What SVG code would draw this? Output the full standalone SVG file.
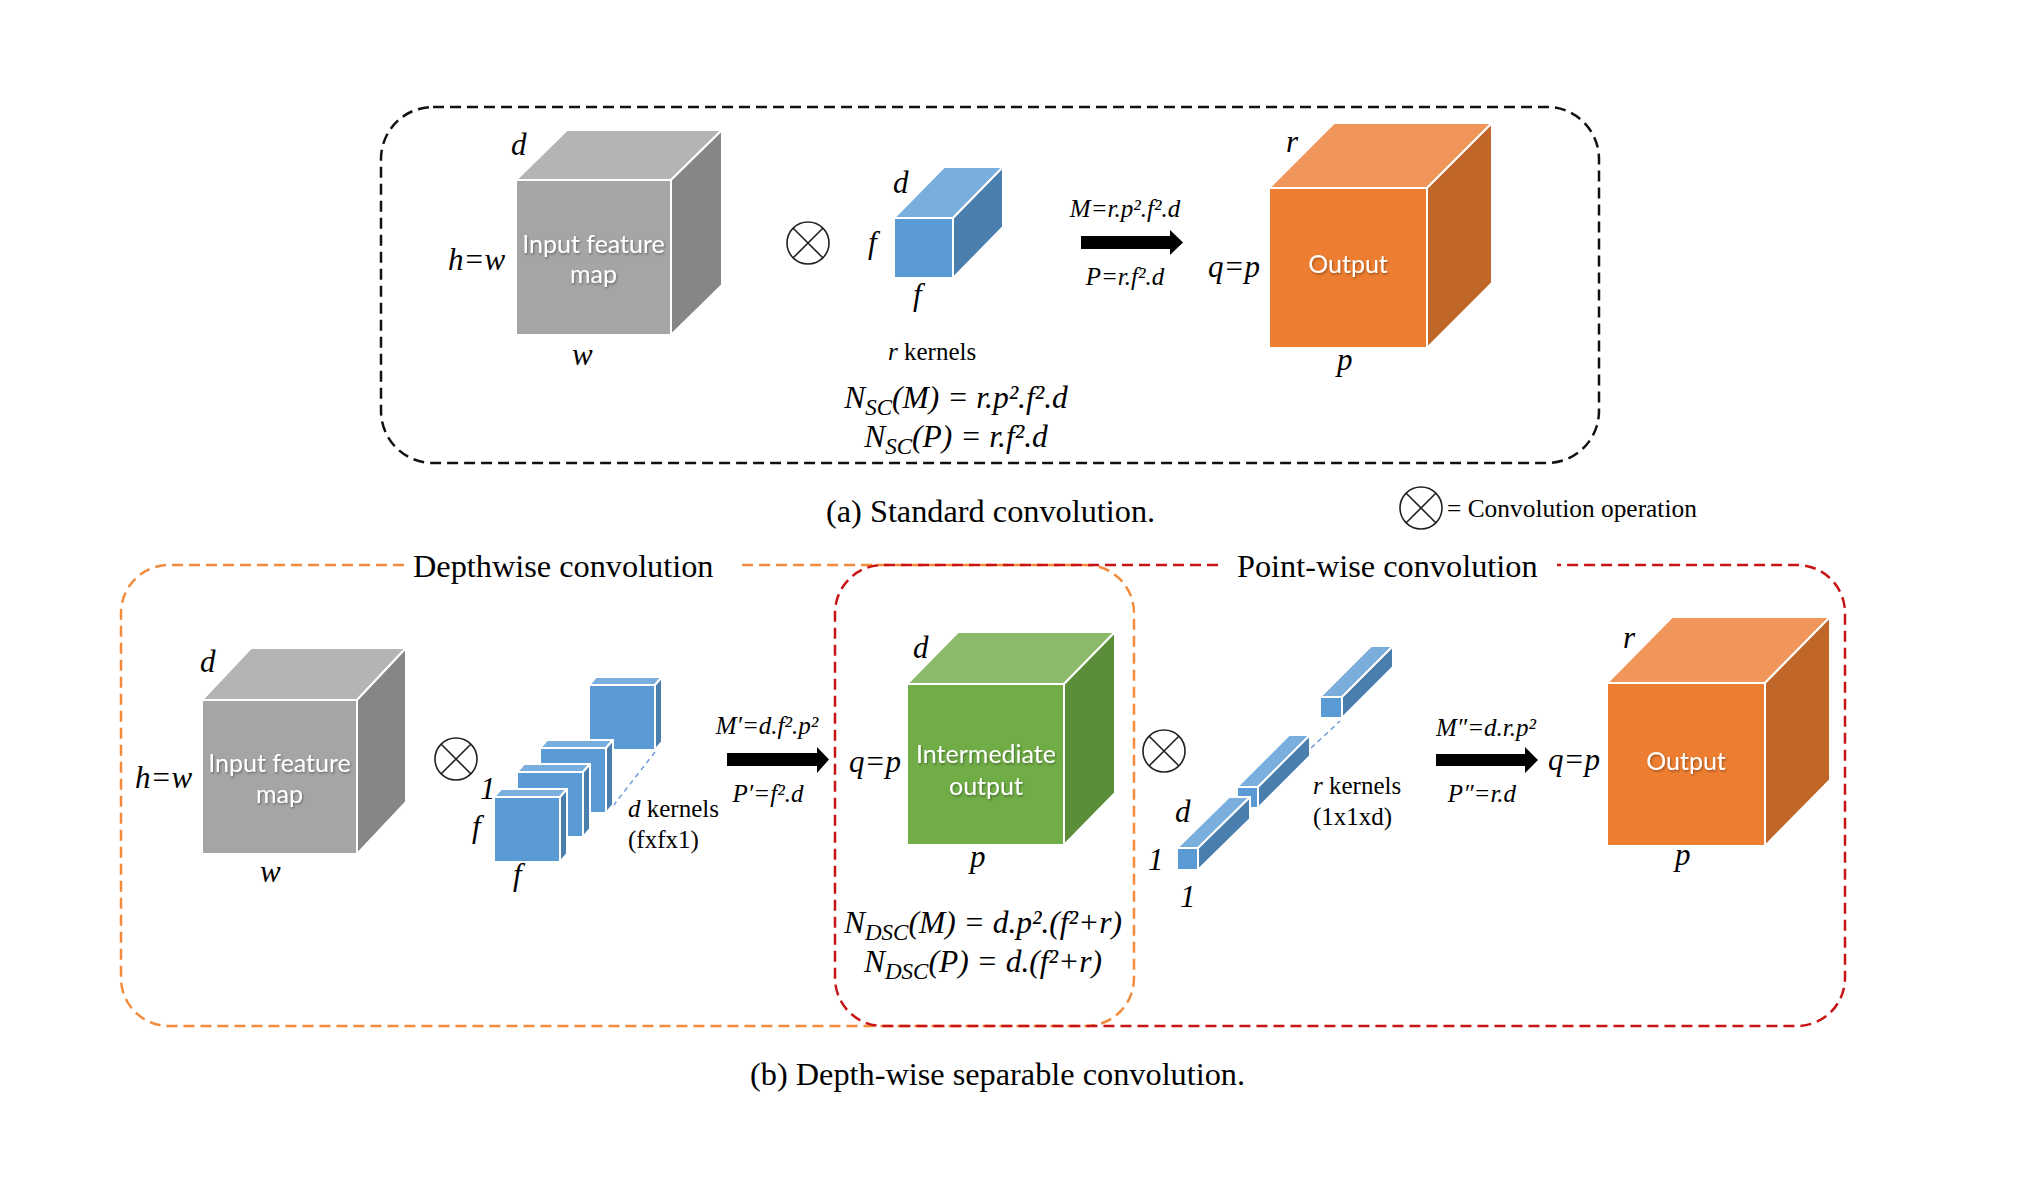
<svg xmlns="http://www.w3.org/2000/svg" width="2028" height="1202" viewBox="0 0 2028 1202">
<style>
.m{font-family:"Liberation Serif","Times New Roman",serif;font-style:italic;fill:#000}
.lb{font-size:31px}
.fs{font-size:25px}
.fm{font-size:31.5px}
.rm{font-family:"Liberation Serif","Times New Roman",serif;fill:#000}
.cap{font-size:32.3px}
.ct{font-family:Lato,"Open Sans",sans-serif;font-size:25px;fill:#fff;text-anchor:middle;filter:url(#sh)}
.edge{stroke:#fff;stroke-width:2;stroke-linejoin:round}
.ox{fill:none;stroke:#222;stroke-width:1.6}
.blk{fill:none;stroke:#111;stroke-width:2.5;stroke-dasharray:11 6}
.org{fill:none;stroke:#F28C3C;stroke-width:2.5;stroke-dasharray:11 6}
.red{fill:none;stroke:#C81414;stroke-width:2.5;stroke-dasharray:11 6}
.bd{fill:none;stroke:#6F9FDA;stroke-width:1.5;stroke-dasharray:5 4}
.arr{fill:#000}
</style>
<defs>
<filter id="sh" x="-10%" y="-30%" width="120%" height="160%">
<feDropShadow dx="1" dy="1.5" stdDeviation="1" flood-color="#000" flood-opacity="0.35"/>
</filter>
<g id="otimes"><circle cx="0" cy="0" r="21" class="ox"/><path d="M-14.8 -14.8L14.8 14.8M14.8 -14.8L-14.8 14.8" class="ox"/></g>
</defs>
<rect width="2028" height="1202" fill="#fff"/>

<g id="frame-standard">
<rect x="381" y="107" width="1218" height="356" rx="52" ry="52" class="blk"/>
</g>

<g id="frame-depthwise">
<path d="M404 565H169A48 48 0 0 0 121 613V978A48 48 0 0 0 169 1026H1086A48 48 0 0 0 1134 978V613A48 48 0 0 0 1086 565H741" class="org"/>
<text x="413" y="577" class="rm cap">Depthwise convolution</text>
</g>

<g id="frame-pointwise">
<path d="M1218 565H883A48 48 0 0 0 835 613V978A48 48 0 0 0 883 1026H1797A48 48 0 0 0 1845 978V613A48 48 0 0 0 1797 565H1557" class="red"/>
<text x="1237" y="577" class="rm cap">Point-wise convolution</text>
</g>

<!-- (a) standard convolution -->
<g id="input-a">
<polygon points="516,180 567,130 722,130 671,180" fill="#B4B4B4" class="edge"/>
<polygon points="671,180 722,130 722,285 671,335" fill="#868686" class="edge"/>
<rect x="516" y="180" width="155" height="155" fill="#A5A5A5" class="edge"/>
<text x="593.5" y="253" class="ct">Input feature</text>
<text x="593.5" y="283" class="ct">map</text>
<text x="511" y="155" class="m lb">d</text>
<text x="448" y="270" class="m lb">h=w</text>
<text x="572" y="365" class="m lb">w</text>
</g>

<g id="conv-a"><use href="#otimes" x="808" y="243"/></g>

<g id="kernel-a">
<polygon points="894,218 944,167 1003,167 953,218" fill="#7AAEDD" class="edge"/>
<polygon points="953,218 1003,167 1003,227 953,278" fill="#4A7EAD" class="edge"/>
<rect x="894" y="218" width="59" height="60" fill="#5B9BD5" class="edge"/>
<text x="893" y="193" class="m lb">d</text>
<text x="868" y="253" class="m lb">f</text>
<text x="913" y="305" class="m lb">f</text>
<text x="888" y="360" class="rm" font-size="25"><tspan font-style="italic">r</tspan> kernels</text>
</g>

<g id="formula-a">
<text x="956" y="408" text-anchor="middle" class="m fm">N<tspan font-size="23" dy="7">SC</tspan><tspan dy="-7">(M) = r.p².f².d</tspan></text>
<text x="956" y="447" text-anchor="middle" class="m fm">N<tspan font-size="23" dy="7">SC</tspan><tspan dy="-7">(P) = r.f².d</tspan></text>
</g>

<g id="output-a">
<polygon points="1269,188 1334,123 1492,123 1427,188" fill="#F0965A" class="edge"/>
<polygon points="1427,188 1492,123 1492,283 1427,348" fill="#C06628" class="edge"/>
<rect x="1269" y="188" width="158" height="160" fill="#ED7D31" class="edge"/>
<text x="1348" y="273" class="ct">Output</text>
<text x="1286" y="152" class="m lb">r</text>
<text x="1208" y="277" class="m lb">q=p</text>
<text x="1337" y="370" class="m lb">p</text>
</g>

<g id="caption-a">
<text x="826" y="522" class="rm cap">(a) Standard convolution.</text>
</g>

<g id="legend">
<use href="#otimes" x="1421" y="508"/>
<text x="1447" y="517" class="rm" font-size="25.4">= Convolution operation</text>
</g>

<!-- (b) depthwise separable -->
<g id="input-b">
<polygon points="202,700 251,648 406,648 357,700" fill="#B4B4B4" class="edge"/>
<polygon points="357,700 406,648 406,802 357,854" fill="#868686" class="edge"/>
<rect x="202" y="700" width="155" height="154" fill="#A5A5A5" class="edge"/>
<text x="279.5" y="772" class="ct">Input feature</text>
<text x="279.5" y="803" class="ct">map</text>
<text x="200" y="672" class="m lb">d</text>
<text x="135" y="788" class="m lb">h=w</text>
<text x="260" y="882" class="m lb">w</text>
</g>

<g id="conv-b1"><use href="#otimes" x="456" y="759"/></g>

<g id="kernels-depthwise">
<polygon points="589,685 596,677 662,677 655,685" fill="#7AAEDD" class="edge" stroke-width="1.5"/>
<polygon points="655,685 662,677 662,742 655,750" fill="#4A7EAD" class="edge" stroke-width="1.5"/>
<rect x="589" y="685" width="66" height="65" fill="#5B9BD5" class="edge" stroke-width="1.5"/>
<line x1="655" y1="752" x2="613" y2="806" class="bd"/>
<polygon points="540,748 547,740 613,740 606,748" fill="#7AAEDD" class="edge" stroke-width="1.5"/>
<polygon points="606,748 613,740 613,805 606,813" fill="#4A7EAD" class="edge" stroke-width="1.5"/>
<rect x="540" y="748" width="66" height="65" fill="#5B9BD5" class="edge" stroke-width="1.5"/>
<polygon points="517,772 524,764 590,764 583,772" fill="#7AAEDD" class="edge" stroke-width="1.5"/>
<polygon points="583,772 590,764 590,829 583,837" fill="#4A7EAD" class="edge" stroke-width="1.5"/>
<rect x="517" y="772" width="66" height="65" fill="#5B9BD5" class="edge" stroke-width="1.5"/>
<polygon points="494,797 501,789 567,789 560,797" fill="#7AAEDD" class="edge" stroke-width="1.5"/>
<polygon points="560,797 567,789 567,854 560,862" fill="#4A7EAD" class="edge" stroke-width="1.5"/>
<rect x="494" y="797" width="66" height="65" fill="#5B9BD5" class="edge" stroke-width="1.5"/>
<text x="480" y="799" class="m lb">1</text>
<text x="472" y="837" class="m lb">f</text>
<text x="513" y="885" class="m lb">f</text>
<text x="628" y="817" class="rm" font-size="25"><tspan font-style="italic">d</tspan> kernels</text>
<text x="628" y="848" class="rm" font-size="25">(fxfx1)</text>
</g>

<g id="intermediate">
<polygon points="907,684 958,632 1115,632 1064,684" fill="#8BBB6A" class="edge"/>
<polygon points="1064,684 1115,632 1115,793 1064,845" fill="#5B8E38" class="edge"/>
<rect x="907" y="684" width="157" height="161" fill="#70AD47" class="edge"/>
<text x="986" y="763" class="ct">Intermediate</text>
<text x="986" y="795" class="ct">output</text>
<text x="913" y="658" class="m lb">d</text>
<text x="849" y="772" class="m lb">q=p</text>
<text x="970" y="867" class="m lb">p</text>
</g>

<g id="formula-b">
<text x="983" y="933" text-anchor="middle" class="m fm">N<tspan font-size="23" dy="7">DSC</tspan><tspan dy="-7">(M) = d.p².(f²+r)</tspan></text>
<text x="983" y="972" text-anchor="middle" class="m fm">N<tspan font-size="23" dy="7">DSC</tspan><tspan dy="-7">(P) = d.(f²+r)</tspan></text>
</g>

<g id="conv-b2"><use href="#otimes" x="1164" y="751"/></g>

<g id="kernels-pointwise">
<polygon points="1320,697 1371,646 1393,646 1342,697" fill="#7AAEDD" class="edge" stroke-width="1.5"/>
<polygon points="1342,697 1393,646 1393,667 1342,718" fill="#4A7EAD" class="edge" stroke-width="1.5"/>
<rect x="1320" y="697" width="22" height="21" fill="#5B9BD5" class="edge" stroke-width="1.5"/>
<line x1="1311" y1="748" x2="1340" y2="721" class="bd"/>
<polygon points="1237,787 1289,735 1310,735 1258,787" fill="#7AAEDD" class="edge" stroke-width="1.5"/>
<polygon points="1258,787 1310,735 1310,756 1258,808" fill="#4A7EAD" class="edge" stroke-width="1.5"/>
<rect x="1237" y="787" width="21" height="21" fill="#5B9BD5" class="edge" stroke-width="1.5"/>
<polygon points="1177,848 1229,797 1250,797 1198,848" fill="#7AAEDD" class="edge" stroke-width="1.5"/>
<polygon points="1198,848 1250,797 1250,819 1198,870" fill="#4A7EAD" class="edge" stroke-width="1.5"/>
<rect x="1177" y="848" width="21" height="22" fill="#5B9BD5" class="edge" stroke-width="1.5"/>
<text x="1175" y="822" class="m lb">d</text>
<text x="1148" y="870" class="m lb">1</text>
<text x="1180" y="907" class="m lb">1</text>
<text x="1313" y="794" class="rm" font-size="25"><tspan font-style="italic">r</tspan> kernels</text>
<text x="1313" y="825" class="rm" font-size="25">(1x1xd)</text>
</g>

<g id="output-b">
<polygon points="1607,683 1672,617 1830,617 1765,683" fill="#F0965A" class="edge"/>
<polygon points="1765,683 1830,617 1830,780 1765,846" fill="#C06628" class="edge"/>
<rect x="1607" y="683" width="158" height="163" fill="#ED7D31" class="edge"/>
<text x="1686" y="770" class="ct">Output</text>
<text x="1623" y="648" class="m lb">r</text>
<text x="1548" y="770" class="m lb">q=p</text>
<text x="1675" y="865" class="m lb">p</text>
</g>

<g id="caption-b">
<text x="750" y="1085" class="rm cap">(b) Depth-wise separable convolution.</text>
</g>

<g id="connectors">
<polygon points="1081,236 1170,236 1170,230 1183,242.5 1170,255 1170,249 1081,249" class="arr"/>
<text x="1125" y="217" text-anchor="middle" class="m fs">M=r.p².f².d</text>
<text x="1125" y="285" text-anchor="middle" class="m fs">P=r.f².d</text>
<polygon points="727,753 817,753 817,747 829,759.5 817,773 817,766 727,766" class="arr"/>
<text x="767" y="734" text-anchor="middle" class="m fs">M′=d.f².p²</text>
<text x="768" y="802" text-anchor="middle" class="m fs">P′=f².d</text>
<polygon points="1436,754 1525,754 1525,747 1538,760 1525,773 1525,766 1436,766" class="arr"/>
<text x="1486" y="736" text-anchor="middle" class="m fs">M″=d.r.p²</text>
<text x="1482" y="802" text-anchor="middle" class="m fs">P″=r.d</text>
</g>
</svg>
